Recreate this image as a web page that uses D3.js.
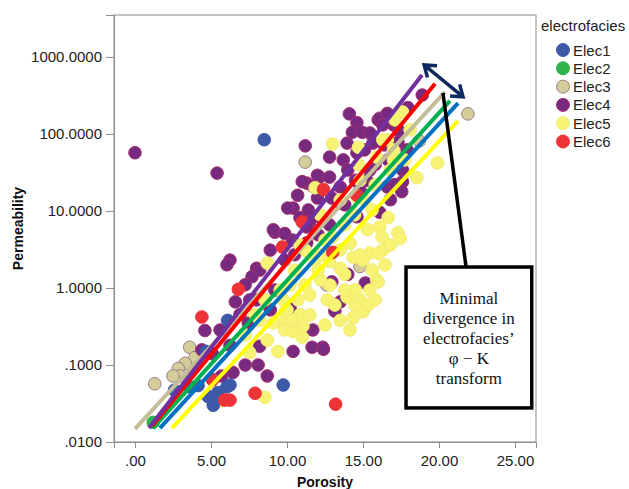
<!DOCTYPE html>
<html lang="en">
<head>
    <meta charset="UTF-8">
    <title>Porosity vs Permeability by electrofacies</title>
    <script src="https://d3js.org/d3.v7.min.js"></script>
    <style>
        body { margin: 0; background: #fff; }
        text { font-family: "Liberation Sans", Arial, sans-serif; }
    </style>
</head>
<body>
    <script>
        // series: [porosity, permeability]
        var categories = ["Elec1", "Elec2", "Elec3", "Elec4", "Elec5", "Elec6"];
        var pointColors = ["#3d5aa8", "#2fb24c", "#d4cc99", "#772a7f", "#f7f374", "#ed3338"];
        var pointStrokes = ["#3d5aa8", "#2fb24c", "#9b7f8c", "#a3306f", "#f1ec70", "#ed3338"];

        var elec1 = [[8.5, 84], [6.1, 0.38], [9.75, 0.055], [5.1, 0.065], [4.15, 0.054], [5.05, 0.036],
            [5.45, 0.044], [2.6, 0.047], [3.6, 0.052], [4.8, 0.039], [5.15, 0.030], [6.25, 0.055],
            [6.05, 0.052], [4.7, 0.15]];
        var elec2 = [[1.2, 0.018]];
        var elec3 = [[11.2, 43], [21.9, 182], [18.7, 81], [1.3, 0.057], [3.6, 0.17], [3.95, 0.125],
            [3.3, 0.105], [2.85, 0.09], [2.95, 0.072], [2.5, 0.072], [12.6, 1.1], [14.8, 1.9]];
        var elec4 = [[0.0, 57], [5.4, 31], [11.2, 70], [14.1, 182], [14.6, 140], [14.3, 105], [14.95, 105],
            [15.45, 103], [16.0, 152], [15.65, 76], [13.95, 76], [12.8, 50], [13.7, 46], [14.0, 34],
            [14.6, 57], [12.15, 27.5], [12.8, 27.5], [11.3, 23], [10.7, 16], [12.0, 14.7], [12.95, 14.7],
            [10.4, 10.9], [11.4, 10.3], [11.5, 7.2], [12.35, 7.6], [13.5, 12.7], [15.25, 25], [13.5, 20.5],
            [10.35, 4.2], [11.3, 3.85], [14.6, 8.4], [18.9, 320], [17.95, 220], [16.1, 160], [16.6, 185],
            [17.0, 131], [16.3, 131], [17.4, 108], [17.3, 78], [17.9, 62], [16.65, 46], [17.6, 34],
            [17.6, 24], [17.55, 17.8], [16.6, 20.5], [16.1, 9.6], [10.05, 10.9], [9.2, 5.3], [9.85, 5.1],
            [6.25, 2.3], [6.05, 2.0], [8.0, 1.8], [7.7, 1.4], [6.6, 0.66], [8.0, 0.7], [6.9, 0.45],
            [7.45, 0.35], [4.4, 0.157], [5.1, 0.14], [7.25, 0.1], [8.1, 0.1], [8.7, 0.072], [6.45, 0.08],
            [5.7, 0.072], [10.4, 0.15], [11.7, 0.285], [11.65, 0.17], [12.35, 0.17], [10.2, 0.55],
            [8.2, 0.175], [11.05, 0.27], [12.4, 0.16], [15.15, 1.16], [13.5, 0.66], [12.95, 1.2],
            [13.15, 0.5], [14.0, 1.5], [9.85, 2.3], [8.9, 3.1], [8.2, 1.7], [9.2, 0.94], [10.5, 2.7],
            [12.05, 4.9], [12.8, 6.6], [13.8, 12], [14.8, 18.7], [15.8, 40], [15.1, 62], [16.4, 72],
            [17.1, 22], [16.8, 14], [15.45, 34], [14.5, 25], [7.25, 1.1], [7.55, 0.7], [8.9, 0.52],
            [5.6, 0.285], [6.25, 0.18], [4.6, 0.28], [11.0, 24], [11.7, 21], [12.0, 29], [9.1, 5.7],
            [10.85, 8.2], [11.3, 6.2]];
        var elec5 = [[19.9, 42], [18.55, 27], [17.6, 193], [16.6, 84], [17.0, 62], [13.0, 74], [14.7, 40],
            [11.85, 20], [14.6, 15], [13.0, 4.6], [14.15, 3.8], [15.3, 5.7], [15.6, 10.3], [15.45, 2.85],
            [16.65, 8.2], [16.1, 6.2], [17.3, 5.2], [17.45, 4.4], [16.25, 4.6], [16.3, 3.1], [16.0, 2.8],
            [15.0, 2.3], [15.9, 1.27], [15.45, 0.94], [15.0, 0.49], [14.35, 0.41], [13.5, 0.38],
            [13.95, 0.76], [12.65, 0.70], [13.5, 1.8], [14.35, 2.5], [16.0, 1.2], [8.7, 2.1], [9.55, 0.38],
            [9.85, 0.285], [8.7, 0.21], [9.4, 0.15], [7.55, 0.145], [8.55, 0.038], [5.6, 0.034],
            [10.4, 0.27], [11.0, 0.23], [10.0, 0.52], [9.1, 0.35], [10.85, 0.45], [11.05, 0.32],
            [12.8, 2.2], [13.8, 1.5], [14.5, 0.95], [12.2, 1.27], [11.5, 0.81], [13.15, 0.6], [14.8, 0.7],
            [11.85, 2.3], [10.5, 1.7], [11.2, 3.1], [10.2, 1.09], [9.55, 0.94], [8.55, 0.7], [7.9, 0.45],
            [7.25, 0.245], [8.2, 0.38], [12.5, 4.2], [13.8, 6.6], [14.45, 8.9], [15.1, 13.9], [15.8, 21.8],
            [16.8, 34], [17.75, 46], [18.1, 113], [17.1, 152], [14.8, 25], [13.5, 13.9], [12.2, 8.9],
            [10.85, 3.6], [14.7, 67], [16.3, 84], [15.9, 50], [17.0, 46],
            [12.05, 1.71], [12.83, 1.09], [13.8, 0.94], [14.47, 0.6], [15.33, 0.6], [15.6, 1.71],
            [14.8, 2.68], [13.5, 3.12], [12.17, 2.68], [11.18, 1.09], [10.72, 0.7], [11.51, 0.446],
            [12.5, 0.33], [14.14, 0.285], [15.8, 0.7], [16.45, 1.99], [16.8, 3.62], [9.74, 0.7], [10.33, 0.384]];
        var elec6 = [[4.4, 0.42], [6.8, 0.96], [13.2, 0.031], [7.9, 0.043], [5.9, 0.035], [6.25, 0.035],
            [5.1, 0.064], [12.4, 19], [14.6, 16], [11.0, 7.2], [9.7, 3.4], [13.0, 2.9]];
        var seriesValues = [elec1, elec2, elec3, elec4, elec5, elec6];
        var drawOrder = [2, 3, 4, 0, 5, 1];

        // fitted phi-K transforms: [porosity start, perm start, porosity end, perm end]
        var fitOrder = ["Elec5", "Elec1", "Elec2", "Elec3", "Elec6", "Elec4"];
        var fitColors = ["#ffff00", "#0070c0", "#00b050", "#c4bd97", "#ff0000", "#7030a0"];
        var fitEnds = [[2.43, 0.0151, 21.25, 148], [1.64, 0.0151, 21.25, 251], [1.18, 0.0151, 20.72, 269],
            [0.0, 0.0148, 20.4, 351], [1.12, 0.0162, 19.74, 447], [0.92, 0.0152, 18.88, 583]];

        var xTicks = [0, 5, 10, 15, 20, 25];
        var xTickLabels = [".00", "5.00", "10.00", "15.00", "20.00", "25.00"];
        var yTicks = [0.01, 0.1, 1, 10, 100, 1000];
        var yTickLabels = [".0100", ".1000", "1.0000", "10.0000", "100.0000", "1000.0000"];

        var noteLines = ["Minimal", "divergence in", "electrofacies\u2019", "\u03c6 \u2212 K", "transform"];

        var width = 629, height = 489;
        var plotLeft = 114, plotTop = 15, plotRight = 536, plotBottom = 442;

        var svg = d3.select("body").append("svg")
            .attr("width", width)
            .attr("height", height);

        var x = d3.scaleLinear().domain([-1.38, 26.38]).range([plotLeft, plotRight]);
        var y = d3.scaleLog().domain([0.01, 3500]).range([plotBottom, plotTop]);

        // frame
        svg.append("rect")
            .attr("x", plotLeft).attr("y", plotTop)
            .attr("width", plotRight - plotLeft).attr("height", plotBottom - plotTop)
            .attr("fill", "none").attr("stroke", "#8c8c8c").attr("stroke-width", 1);

        var yAxis = svg.append("g")
            .attr("transform", "translate(" + plotLeft + ",0)")
            .call(d3.axisLeft(y).tickValues(yTicks).tickSize(8).tickPadding(4)
                .tickFormat(function(d, i) { return yTickLabels[i]; }));
        var xAxis = svg.append("g")
            .attr("transform", "translate(0," + plotBottom + ")")
            .call(d3.axisBottom(x).tickValues(xTicks).tickSize(6).tickPadding(7)
                .tickFormat(function(d, i) { return xTickLabels[i]; }));
        [xAxis, yAxis].forEach(function(a) {
            a.select(".domain").attr("stroke", "#8c8c8c");
            a.selectAll(".tick line").attr("stroke", "#8c8c8c");
            a.selectAll(".tick text").attr("fill", "#222").style("font-size", "15px")
                .style("font-family", "'Liberation Sans', Arial, sans-serif");
        });

        // points
        var pts = svg.append("g");
        drawOrder.forEach(function(s) {
            pts.selectAll(null)
                .data(seriesValues[s])
                .enter().append("circle")
                .attr("cx", function(d) { return x(d[0]); })
                .attr("cy", function(d) { return y(d[1]); })
                .attr("r", 6.3)
                .attr("fill", pointColors[s])
                .attr("stroke", pointStrokes[s])
                .attr("stroke-width", 1);
        });

        // fit lines
        svg.append("g")
            .selectAll("line")
            .data(fitEnds)
            .enter().append("line")
            .attr("x1", function(d) { return x(d[0]); })
            .attr("y1", function(d) { return y(d[1]); })
            .attr("x2", function(d) { return x(d[2]); })
            .attr("y2", function(d) { return y(d[3]); })
            .attr("stroke", function(d, i) { return fitColors[i]; })
            .attr("stroke-width", 4);

        // annotation: double arrow, pointer and box (placed in data units)
        var arrowA = [19.02, 787], arrowB = [21.58, 302];
        var pointerA = [20.26, 340], pointerB = [21.78, 1.87];
        var boxA = [17.83, 1.87], boxB = [26.1, 0.0277];

        var ann = svg.append("g");
        ann.append("line")
            .attr("x1", x(pointerA[0])).attr("y1", y(pointerA[1]))
            .attr("x2", x(pointerB[0])).attr("y2", y(pointerB[1]))
            .attr("stroke", "#000").attr("stroke-width", 3.5);

        var ax1 = x(arrowA[0]), ay1 = y(arrowA[1]), ax2 = x(arrowB[0]), ay2 = y(arrowB[1]);
        var ang = Math.atan2(ay2 - ay1, ax2 - ax1);
        function head(px, py, dir) {
            var len = 13, spread = 0.62;
            var a1 = dir + Math.PI - spread, a2 = dir + Math.PI + spread;
            return "M" + (px + len * Math.cos(a1)) + "," + (py + len * Math.sin(a1)) +
                "L" + px + "," + py +
                "L" + (px + len * Math.cos(a2)) + "," + (py + len * Math.sin(a2));
        }
        ann.append("path")
            .attr("d", "M" + ax1 + "," + ay1 + "L" + ax2 + "," + ay2 + head(ax2, ay2, ang) + head(ax1, ay1, ang + Math.PI))
            .attr("fill", "none").attr("stroke", "#0f2a5f").attr("stroke-width", 3.5)
            .attr("stroke-linejoin", "miter");

        var bx = x(boxA[0]), by = y(boxA[1]), bw = x(boxB[0]) - bx, bh = y(boxB[1]) - by;
        ann.append("rect")
            .attr("x", bx).attr("y", by).attr("width", bw).attr("height", bh)
            .attr("fill", "#fff").attr("stroke", "#000").attr("stroke-width", 3.5);
        ann.selectAll("text")
            .data(noteLines)
            .enter().append("text")
            .attr("x", bx + bw / 2)
            .attr("y", function(d, i) { return by + 37 + i * 20; })
            .attr("text-anchor", "middle")
            .style("font-family", "'Liberation Serif', 'Times New Roman', serif")
            .style("font-size", "17px")
            .attr("fill", "#111")
            .text(function(d) { return d; });

        // axis titles
        svg.append("text")
            .attr("transform", "translate(23," + ((plotTop + plotBottom) / 2) + ") rotate(-90)")
            .attr("text-anchor", "middle")
            .style("font-size", "14px").style("font-weight", "bold")
            .attr("fill", "#111")
            .text("Permeability");
        svg.append("text")
            .attr("x", (plotLeft + plotRight) / 2).attr("y", 487)
            .attr("text-anchor", "middle")
            .style("font-size", "14px").style("font-weight", "bold")
            .attr("fill", "#111")
            .text("Porosity");

        // legend
        var legend = svg.append("g");
        legend.append("text")
            .attr("x", 541).attr("y", 31)
            .style("font-size", "15px").attr("fill", "#222")
            .text("electrofacies");
        var item = legend.selectAll("g.item")
            .data(categories)
            .enter().append("g")
            .attr("class", "item")
            .attr("transform", function(d, i) { return "translate(563," + (50 + i * 18.3) + ")"; });
        item.append("circle")
            .attr("r", 6.5)
            .attr("fill", function(d, i) { return pointColors[i]; })
            .attr("stroke", function(d, i) { return pointStrokes[i]; });
        item.append("text")
            .attr("x", 10).attr("y", 5.5)
            .style("font-size", "15px").attr("fill", "#222")
            .text(function(d) { return d; });
    </script>
</body>
</html>
